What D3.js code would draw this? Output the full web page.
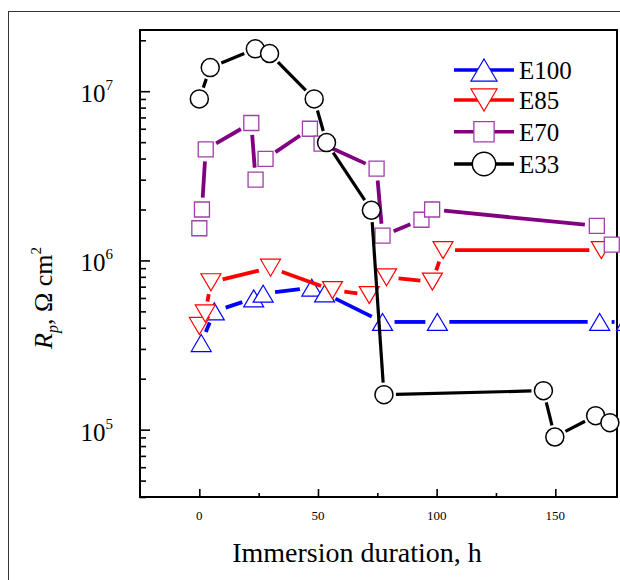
<!DOCTYPE html>
<html>
<head>
<meta charset="utf-8">
<script src="https://cdn.jsdelivr.net/npm/d3@7"></script>
<style>
  body { margin: 0; background: #fff; }
</style>
</head>
<body>
<div id="chart"></div>
<script>
// data (hours, Rp in ohm cm2)
const hoursE100 = [0.8, 6.3, 22.9, 26.9, 47.4, 52.8, 77.2, 100.3, 168.7, 180];
const rpE100    = [3.25e5, 5.0e5, 5.97e5, 6.36e5, 6.9e5, 6.39e5, 4.33e5, 4.33e5, 4.33e5, 4.33e5];

const hoursE85 = [0, 2.5, 4.9, 30, 56.1, 71.6, 78.9, 98.2, 102.7, 169.4];
const rpE85    = [4.1e5, 4.86e5, 7.43e5, 9.06e5, 6.68e5, 6.24e5, 7.95e5, 7.49e5, 1.15e6, 1.15e6];

const hoursE70 = [0, 1.1, 2.7, 21.9, 23.7, 27.9, 46.6, 51.5, 74.7, 77.2, 93.6, 98.1, 167.5, 173.8];
const rpE70    = [1.55e6, 2.0e6, 4.53e6, 6.49e6, 3.0e6, 3.98e6, 6.0e6, 4.9e6, 3.49e6, 1.40e6, 1.74e6, 2.0e6, 1.60e6, 1.24e6];

const hoursE33 = [0, 4.6, 23.6, 29.6, 48.4, 53.6, 72.5, 77.8, 145, 149.8, 167, 173];
const rpE33    = [9.0e6, 1.38e7, 1.78e7, 1.67e7, 9.0e6, 4.97e6, 1.98e6, 1.61e5, 1.70e5, 9.05e4, 1.21e5, 1.10e5];

const seriesNames = ["E100", "E85", "E70", "E33"];
const xTicks = [0, 50, 100, 150];
const xMinorTicks = [25, 75, 125];
const yTickExps = [5, 6, 7];

const width = 620, height = 580;
const plot = {left: 140, right: 617, top: 30, bottom: 497};
const serif = "'Liberation Serif', 'Times New Roman', Times, serif";

const svg = d3.select("#chart")
  .append("svg")
    .attr("width", width)
    .attr("height", height)
    .attr("font-family", serif);

// outer frame (cropped on the right/bottom in the original)
svg.append("rect")
  .attr("x", 8.5).attr("y", 11.5)
  .attr("width", 640).attr("height", 600)
  .attr("fill", "none")
  .attr("stroke", "#333")
  .attr("stroke-width", 1);

const x = d3.scaleLinear().domain([-25, 176]).range([plot.left, plot.right]);
const y = d3.scaleLog().domain([4e4, 2.3e7]).range([plot.bottom, plot.top]);

// axes: ticks point inward
const xAxis = svg.append("g").attr("transform", `translate(0,${plot.bottom})`);
xAxis.call(d3.axisTop(x).tickValues(xTicks).tickSize(8).tickFormat(""));
xAxis.append("g").call(d3.axisTop(x).tickValues(xMinorTicks).tickSize(4).tickFormat(""));
xAxis.selectAll(".domain").remove();
xAxis.selectAll("line").attr("stroke", "#000").attr("stroke-width", 1.6);

svg.selectAll(".xlab")
  .data(xTicks)
  .join("text")
    .attr("class", "xlab")
    .attr("x", d => x(d))
    .attr("y", 520)
    .attr("text-anchor", "middle")
    .attr("font-family", serif)
    .attr("font-size", 13)
    .text(d => d);

const majorY = yTickExps.map(e => Math.pow(10, e));
const minorY = [];
[4, 5, 6, 7].forEach(e => {
  for (let k = 2; k <= 9; k++) {
    const v = k * Math.pow(10, e);
    if (v >= 4e4 && v <= 2.3e7) minorY.push(v);
  }
});

const yAxis = svg.append("g").attr("transform", `translate(${plot.left},0)`);
yAxis.call(d3.axisRight(y).tickValues(majorY).tickSize(10).tickFormat(""));
yAxis.append("g").call(d3.axisRight(y).tickValues(minorY).tickSize(6).tickFormat(""));
yAxis.selectAll(".domain").remove();
yAxis.selectAll("line").attr("stroke", "#000").attr("stroke-width", 1.6);

const ylab = svg.selectAll(".ylab")
  .data(yTickExps)
  .join("text")
    .attr("class", "ylab")
    .attr("x", 113)
    .attr("y", d => y(Math.pow(10, d)) + 11)
    .attr("text-anchor", "end")
    .attr("font-family", serif)
    .attr("font-size", 25);
ylab.append("tspan").text("10");
ylab.append("tspan")
  .attr("font-size", 15)
  .attr("dy", -12)
  .text(d => d);

// plot frame
svg.append("rect")
  .attr("x", plot.left).attr("y", plot.top)
  .attr("width", plot.right - plot.left)
  .attr("height", plot.bottom - plot.top)
  .attr("fill", "none")
  .attr("stroke", "#000")
  .attr("stroke-width", 2);

// axis titles
svg.append("text")
  .attr("x", 357)
  .attr("y", 562)
  .attr("text-anchor", "middle")
  .attr("font-family", serif)
  .attr("font-size", 28)
  .text("Immersion duration, h");

const yt = svg.append("text")
  .attr("transform", "translate(52,298) rotate(-90)")
  .attr("text-anchor", "middle")
  .attr("font-family", serif)
  .attr("font-size", 26);
yt.append("tspan").attr("font-style", "italic").text("R");
yt.append("tspan").attr("font-style", "italic").attr("font-size", 16).attr("dy", 6).text("p");
yt.append("tspan").attr("dy", -6).text(", Ω cm");
yt.append("tspan").attr("font-size", 15).attr("dy", -11).text("2");

// marker shapes
function markerPath(kind, s) {
  if (kind === "up") {
    const w = 20 * s, h = 17 * s;
    return `M0,${-h/2}L${w/2},${h/2}L${-w/2},${h/2}Z`;
  }
  if (kind === "down") {
    const w = 20 * s, h = 17 * s;
    return `M0,${h/2}L${w/2},${-h/2}L${-w/2},${-h/2}Z`;
  }
  if (kind === "square") {
    const a = 7.5 * s;
    return `M${-a},${-a}H${a}V${a}H${-a}Z`;
  }
  const r = 9 * s;
  return `M${r},0A${r},${r} 0 1,1 ${-r},0A${r},${r} 0 1,1 ${r},0Z`;
}

const series = [
  {name: "E100", hours: hoursE100, rp: rpE100, line: "#0000ff", stroke: "#0000ff", kind: "up", lw: 3.8, mw: 1.2},
  {name: "E85",  hours: hoursE85,  rp: rpE85,  line: "#ff0000", stroke: "#ff0000", kind: "down", lw: 3.8, mw: 1.2},
  {name: "E70",  hours: hoursE70,  rp: rpE70,  line: "#800080", stroke: "#a040a8", kind: "square", lw: 3.8, mw: 1.3},
  {name: "E33",  hours: hoursE33,  rp: rpE33,  line: "#000000", stroke: "#000000", kind: "circle", lw: 3.2, mw: 1.5}
];

const gap = 12;

series.forEach(s => {
  const pts = s.hours.map((h, i) => [x(h), y(s.rp[i])]);
  const g = svg.append("g").attr("class", "series " + s.name);

  // segments between markers, trimmed so they stop short of each symbol
  const segs = [];
  for (let i = 0; i < pts.length - 1; i++) {
    const [x0, y0] = pts[i], [x1, y1] = pts[i + 1];
    const len = Math.hypot(x1 - x0, y1 - y0);
    if (len <= 2 * gap + 1) continue;
    const ux = (x1 - x0) / len, uy = (y1 - y0) / len;
    segs.push([x0 + ux * gap, y0 + uy * gap, x1 - ux * gap, y1 - uy * gap]);
  }
  g.selectAll("line")
    .data(segs)
    .join("line")
      .attr("x1", d => d[0]).attr("y1", d => d[1])
      .attr("x2", d => d[2]).attr("y2", d => d[3])
      .attr("stroke", s.line)
      .attr("stroke-width", s.lw)
      .attr("stroke-linecap", "butt");

  g.selectAll("path")
    .data(pts)
    .join("path")
      .attr("transform", d => `translate(${d[0]},${d[1]})`)
      .attr("d", markerPath(s.kind, 1))
      .attr("fill", "#fff")
      .attr("stroke", s.stroke)
      .attr("stroke-width", s.mw);
});

// legend
const legendY = [70, 100, 131.7, 164];
const legend = svg.append("g").attr("class", "legend");
series.forEach((s, i) => {
  const ly = legendY[i];
  legend.append("line")
    .attr("x1", 454).attr("x2", 514)
    .attr("y1", ly).attr("y2", ly)
    .attr("stroke", s.line)
    .attr("stroke-width", 3.5);
  legend.append("path")
    .attr("transform", `translate(484,${ly})`)
    .attr("d", markerPath(s.kind, s.kind === "square" ? 1.35 : 1.3))
    .attr("fill", "#fff")
    .attr("stroke", s.stroke)
    .attr("stroke-width", s.mw);
  legend.append("text")
    .attr("x", 519)
    .attr("y", ly + 9)
    .attr("font-family", serif)
    .attr("font-size", 25)
    .text(seriesNames[i]);
});
</script>
</body>
</html>
